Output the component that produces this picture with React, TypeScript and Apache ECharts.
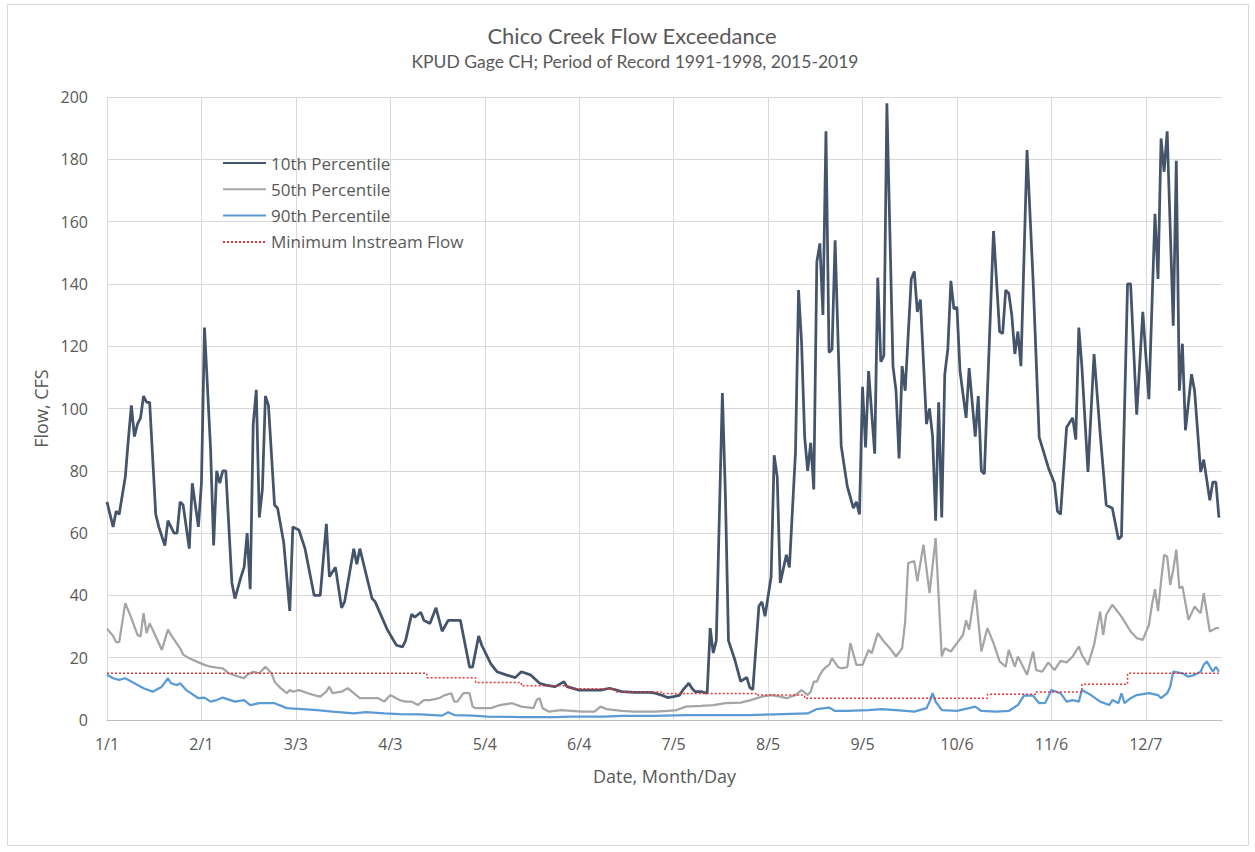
import React, { useEffect, useRef } from "react";
import * as echarts from "echarts";

// x = day of (leap) year, 0 = 1/1
const tickLabels = ["1/1", "2/1", "3/3", "4/3", "5/4", "6/4", "7/5", "8/5", "9/5", "10/6", "11/6", "12/7"];
const seriesNames = ["10th Percentile", "50th Percentile", "90th Percentile", "Minimum Instream Flow"];

const p10: number[][] = [
  [0, 70], [2, 62], [3, 67], [4, 66], [6, 78], [7, 90], [8, 101], [9, 91], [10, 95], [11, 97], [12, 104], [13, 102], [14, 102],
  [16, 66], [17, 62], [19, 56], [20, 64], [22, 60], [23, 60], [24, 70], [25, 69], [27, 55], [28, 76], [30, 62], [31, 76],
  [32, 126], [34, 87], [35, 56], [36, 80], [37, 76], [38, 80], [39, 80], [41, 44], [42, 39], [44, 46], [45, 49], [46, 60],
  [47, 42], [48, 95], [49, 106], [50, 65], [51, 74], [52, 104], [53, 101], [55, 69], [56, 68], [58, 57], [60, 35], [61, 62],
  [63, 61], [65, 55], [68, 40], [70, 40], [72, 63], [73, 46], [75, 49], [77, 36], [78, 38], [81, 55], [82, 50], [83, 55],
  [87, 39], [88, 38], [92, 29], [95, 24], [97, 23.5], [98, 25.5], [100, 34], [101, 33], [103, 34.6], [104, 32], [106, 31],
  [108, 36], [110, 28.5], [112, 32], [116, 32], [117, 27], [119, 17], [120, 17], [122, 27], [123, 24], [126, 18], [128, 15.5],
  [131, 14.5], [134, 13.6], [136, 15.5], [139, 14.5], [142, 11.8], [144, 11.2], [147, 10.7], [148, 11.2], [150, 12.3],
  [151, 10.7], [155, 9.6], [158, 9.6], [162, 9.6], [165, 10.2], [169, 9.1], [173, 8.9], [178, 8.9], [180, 8.6], [182, 8],
  [184, 7.2], [186, 7.5], [188, 8], [189, 9.6], [190, 10.7], [191, 11.8], [192, 10.2], [193, 9.1], [195, 9.1], [197, 8.6],
  [198, 29.5], [199, 21.5], [200, 25.5], [202, 105], [203, 72], [204, 25.5], [206, 19.6], [208, 12.4], [210, 13.7],
  [211, 10.4], [212, 9.8], [214, 36.6], [215, 37.9], [216, 33.3], [218, 46], [219, 85], [220, 78], [221, 44], [223, 53],
  [224, 49], [226, 86], [227, 138], [228, 121], [229, 91], [230, 80], [231, 89], [232, 74], [233, 147], [234, 153],
  [235, 130], [236, 189], [237, 118], [238, 119], [239, 154], [241, 88], [243, 75], [245, 68], [246, 70], [247, 66],
  [248, 107], [249, 87.5], [250, 112], [252, 85.5], [253, 142], [254, 115], [255, 117], [256, 198], [258, 113.6],
  [259, 105.7], [260, 84], [261, 113.6], [262, 105.7], [264, 141.6], [265, 144], [266, 131], [267, 135], [269, 95],
  [270, 100], [271, 91], [272, 64], [273, 102], [274, 65], [275, 111], [276, 119], [277, 141], [278, 132], [279, 132.5],
  [280, 112], [282, 97], [283, 113], [285, 91], [286, 104], [287, 80], [288, 79], [291, 157], [293, 124.7], [294, 124],
  [295, 138], [296, 137], [297, 130], [298, 117.5], [299, 124.7], [300, 113.6], [302, 183], [304, 141], [306, 90.7],
  [307, 87.5], [309, 81], [311, 76], [312, 67], [313, 66], [315, 94], [317, 97], [318, 90], [319, 126], [320, 113.6],
  [322, 79.6], [324, 117.5], [326, 92], [328, 69], [330, 68], [332, 58], [333, 59], [335, 140], [336, 140], [338, 98],
  [340, 131], [342, 103], [344, 162.5], [345, 141.6], [346, 186.7], [347, 176], [348, 189], [350, 126.6], [351, 179.5],
  [352, 105.7], [353, 120.8], [354, 93], [356, 111], [357, 105.7], [359, 79.6], [360, 83.6], [362, 70.5], [363, 76.4],
  [364, 76.4], [365, 65],
];

const p50: number[][] = [
  [0, 29.3], [2, 27], [3, 25], [4, 25], [6, 37.5], [8, 32.7], [10, 27.3], [11, 26.8], [12, 34.3], [13, 27.9], [14, 31],
  [15, 29], [18, 22.5], [20, 29], [21, 27.3], [24, 23], [25, 21], [27, 19.8], [30, 18.5], [32, 17.7], [34, 17.1],
  [36, 16.8], [38, 16.6], [40, 15], [43, 14], [45, 13.4], [46, 14.5], [48, 15.5], [50, 15], [52, 17.1], [54, 15],
  [55, 12.3], [57, 10.2], [59, 8.6], [60, 9.6], [61, 9.1], [63, 9.6], [66, 8.6], [68, 8], [70, 7.5], [72, 9.1],
  [73, 10.7], [74, 8.6], [77, 9.1], [79, 10.2], [81, 8.6], [83, 7], [86, 7], [89, 7], [91, 5.9], [93, 8], [96, 6.4],
  [98, 5.9], [100, 5.9], [102, 4.8], [104, 6.4], [106, 6.4], [109, 7], [111, 8], [113, 8.6], [114, 5.9], [115, 5.9],
  [117, 8.6], [119, 8.6], [120, 4.3], [121, 3.8], [124, 3.8], [126, 3.8], [129, 4.8], [133, 5.4], [136, 4.3], [140, 3.8],
  [141, 6.4], [142, 7], [143, 3.8], [145, 2.7], [149, 3.2], [156, 2.7], [160, 2.7], [162, 4.3], [164, 3.5], [169, 2.9],
  [173, 2.7], [180, 2.7], [184, 2.9], [187, 3.2], [190, 4.3], [195, 4.5], [199, 4.8], [203, 5.4], [208, 5.6], [211, 6.3],
  [215, 7.5], [218, 8], [221, 7.5], [223, 7], [226, 8], [228, 9.6], [230, 8], [231, 9.1], [232, 12.3], [233, 12.3],
  [234, 14.5], [235, 16], [236, 17], [237, 17.7], [238, 19.8], [240, 17], [241, 16.6], [243, 17], [244, 24.7], [246, 17.7],
  [248, 17.7], [250, 22.5], [251, 21.4], [253, 27.9], [255, 25.2], [257, 23], [259, 20.4], [261, 23], [262, 31.6],
  [263, 50.4], [265, 51], [266, 44.5], [268, 56.3], [270, 40.7], [272, 58.4], [274, 20.4], [275, 23], [277, 22],
  [279, 24.7], [281, 27.3], [282, 32], [283, 29], [285, 41.8], [287, 22], [289, 29.5], [291, 24.7], [293, 18.8],
  [295, 17.1], [296, 22.5], [298, 17.1], [299, 20.4], [302, 14.5], [304, 22], [305, 16], [307, 15.5], [309, 18.5],
  [311, 16], [313, 19], [315, 18.5], [317, 20.4], [319, 23.6], [320, 20.9], [322, 17.7], [324, 24.1], [326, 34.8],
  [327, 27.3], [328, 33.8], [330, 37], [333, 33.2], [336, 28.4], [338, 26.3], [340, 25.7], [342, 30.5], [343, 37],
  [344, 42], [345, 35], [346, 44.5], [347, 53], [348, 52.5], [349, 43.4], [350, 48.2], [351, 54.7], [352, 42.3],
  [353, 42.9], [355, 32.2], [357, 36.4], [359, 34.3], [360, 40.7], [362, 28.4], [364, 29.5], [365, 29.5],
];

const p90: number[][] = [
  [0, 14.5], [2, 13.4], [4, 12.9], [6, 13.4], [9, 11.8], [12, 10.2], [15, 9.1], [18, 10.7], [20, 13.4], [21, 11.8],
  [23, 11.2], [24, 11.8], [26, 9.6], [30, 7], [32, 7.2], [34, 5.9], [36, 6.4], [38, 7.2], [42, 5.9], [45, 6.4], [47, 4.8],
  [50, 5.4], [55, 5.4], [59, 3.8], [64, 3.5], [69, 3.2], [74, 2.7], [81, 2.1], [85, 2.5], [91, 2.1], [96, 1.9], [103, 1.8],
  [110, 1.4], [112, 2.5], [114, 1.6], [120, 1.4], [125, 1.1], [136, 0.9], [147, 0.9], [152, 1.1], [163, 1.1], [169, 1.3],
  [180, 1.3], [190, 1.6], [201, 1.6], [211, 1.6], [219, 1.8], [230, 2.1], [233, 3.5], [237, 4], [239, 2.9], [243, 2.9],
  [250, 3.2], [254, 3.5], [259, 3.2], [265, 2.7], [269, 3.8], [270, 5.9], [271, 8.6], [272, 5.9], [274, 3.2], [279, 2.9],
  [283, 3.8], [285, 4.3], [287, 2.9], [292, 2.7], [296, 2.9], [299, 4.8], [301, 7.8], [304, 7.8], [306, 5.4], [308, 5.5],
  [310, 9.6], [313, 8.6], [315, 5.9], [317, 6.4], [319, 5.9], [320, 9.6], [323, 8], [326, 5.9], [329, 4.8], [330, 6.4],
  [332, 5.4], [333, 8.6], [334, 5.4], [336, 7], [338, 8], [342, 8.6], [345, 8], [346, 7], [348, 8.6], [349, 10.7],
  [350, 15.5], [353, 15], [355, 13.9], [357, 14.5], [359, 15.5], [360, 17.7], [361, 18.8], [363, 15.5], [364, 17.1],
  [365, 15.5],
];

// Minimum instream flow: step schedule (start day, cfs)
const mifStart = [0, 105, 121, 136, 152, 167, 182, 213, 229, 289, 305, 320, 335];
const mifValue = [15, 13.6, 12, 11, 10, 9, 8.5, 8, 7, 8.3, 9, 11.5, 15];
const lastDay = 365;

export default function App() {
  const ref = useRef<HTMLDivElement>(null);
  useEffect(() => {
    document.body.style.margin = "0";
    const chart = echarts.init(ref.current!, null, { renderer: "svg" });
    const mif = mifStart.map((d, i) => [d, mifValue[i]]);
    mif.push([lastDay, mifValue[mifValue.length - 1]]);
    const txt = "#595959";
    const font = "'Open Sans', sans-serif";
    chart.setOption({
      animation: false,
      backgroundColor: "#ffffff",
      textStyle: { fontFamily: font },
      grid: { left: 107, right: 33, top: 97, bottom: 132 },
      graphic: [
        {
          type: "rect",
          shape: { x: 7.5, y: 4.5, width: 1241, height: 841 },
          style: { fill: "none", stroke: "#D9D9D9", lineWidth: 1 },
          silent: true,
        },
        {
          type: "text",
          x: 632,
          y: 35,
          style: {
            text: "Chico Creek Flow Exceedance",
            fill: txt,
            font: "22px Lato, sans-serif",
            textAlign: "center",
            textVerticalAlign: "middle",
          },
        },
        {
          type: "text",
          x: 635,
          y: 61,
          style: {
            text: "KPUD Gage CH; Period of Record 1991-1998, 2015-2019",
            fill: txt,
            font: "17.5px Lato, sans-serif",
            textAlign: "center",
            textVerticalAlign: "middle",
          },
        },
      ],
      legend: {
        data: seriesNames,
        orient: "vertical",
        left: 217,
        top: 149.5,
        itemWidth: 43,
        itemHeight: 17,
        itemGap: 9.3,
        itemStyle: { opacity: 0 },
        textStyle: { color: txt, fontSize: 17, fontFamily: font },
      },
      xAxis: {
        type: "value",
        min: 0,
        max: 366,
        interval: 31,
        name: "Date, Month/Day",
        nameLocation: "middle",
        nameGap: 47,
        nameTextStyle: { color: txt, fontSize: 18, fontFamily: font },
        axisLine: { show: true, lineStyle: { color: "#BFBFBF", width: 1 } },
        axisTick: { show: false },
        axisLabel: {
          color: txt,
          fontSize: 16,
          margin: 16,
          showMaxLabel: false,
          formatter: (v: number) => (v % 31 === 0 ? tickLabels[v / 31] ?? "" : ""),
        },
        splitLine: { show: true, showMaxLine: false, lineStyle: { color: "#D9D9D9", width: 1 } },
      },
      yAxis: {
        type: "value",
        min: 0,
        max: 200,
        interval: 20,
        name: "Flow, CFS",
        nameLocation: "middle",
        nameGap: 55,
        nameTextStyle: { color: txt, fontSize: 18, fontFamily: font },
        axisLine: { show: false },
        axisTick: { show: false },
        axisLabel: { color: txt, fontSize: 16, margin: 19 },
        splitLine: { show: true, lineStyle: { color: "#D9D9D9", width: 1 } },
      },
      series: [
        {
          name: seriesNames[0],
          type: "line",
          data: p10,
          symbol: "none",
          lineStyle: { color: "#44546A", width: 2.75 },
          itemStyle: { color: "#44546A" },
        },
        {
          name: seriesNames[1],
          type: "line",
          data: p50,
          symbol: "none",
          lineStyle: { color: "#A5A5A5", width: 2.25 },
          itemStyle: { color: "#A5A5A5" },
        },
        {
          name: seriesNames[2],
          type: "line",
          data: p90,
          symbol: "none",
          lineStyle: { color: "#5B9BD5", width: 2.25 },
          itemStyle: { color: "#5B9BD5" },
        },
        {
          name: seriesNames[3],
          type: "line",
          data: mif,
          step: "end",
          symbol: "none",
          lineStyle: { color: "#E0383A", width: 1.5, type: [2, 2] },
          itemStyle: { color: "#E0383A" },
        },
      ],
    });
    return () => chart.dispose();
  }, []);
  return <div ref={ref} style={{ width: 1255, height: 852 }} />;
}
